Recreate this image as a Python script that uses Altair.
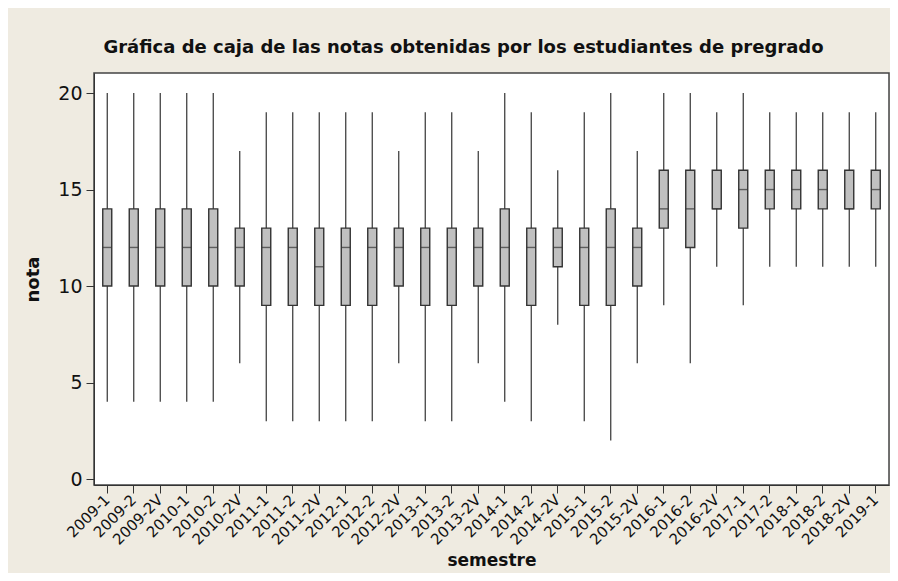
import altair as alt
import pandas as pd

semestres = ["2009-1", "2009-2", "2009-2V", "2010-1", "2010-2", "2010-2V",
             "2011-1", "2011-2", "2011-2V", "2012-1", "2012-2", "2012-2V",
             "2013-1", "2013-2", "2013-2V", "2014-1", "2014-2", "2014-2V",
             "2015-1", "2015-2", "2015-2V", "2016-1", "2016-2", "2016-2V",
             "2017-1", "2017-2", "2018-1", "2018-2", "2018-2V", "2019-1"]
minimo = [4, 4, 4, 4, 4, 6, 3, 3, 3, 3, 3, 6, 3, 3, 6, 4, 3, 8, 3, 2, 6, 9, 6, 11, 9, 11, 11, 11, 11, 11]
q1 = [10, 10, 10, 10, 10, 10, 9, 9, 9, 9, 9, 10, 9, 9, 10, 10, 9, 11, 9, 9, 10, 13, 12, 14, 13, 14, 14, 14, 14, 14]
mediana = [12, 12, 12, 12, 12, 12, 12, 12, 11, 12, 12, 12, 12, 12, 12, 12, 12, 12, 12, 12, 12, 14, 14, 14, 15, 15, 15, 15, 14, 15]
q3 = [14, 14, 14, 14, 14, 13, 13, 13, 13, 13, 13, 13, 13, 13, 13, 14, 13, 13, 13, 14, 13, 16, 16, 16, 16, 16, 16, 16, 16, 16]
maximo = [20, 20, 20, 20, 20, 17, 19, 19, 19, 19, 19, 17, 19, 19, 17, 20, 19, 16, 19, 20, 17, 20, 20, 19, 20, 19, 19, 19, 19, 19]
y_ticks = [0, 5, 10, 15, 20]

df = pd.DataFrame({"semestre": semestres, "min": minimo, "q1": q1,
                   "med": mediana, "q3": q3, "max": maximo})

FONT = "DejaVu Sans"
DARK = "#333333"

x_enc = alt.X("semestre:N", sort=semestres,
              scale=alt.Scale(paddingInner=0, paddingOuter=0),
              axis=alt.Axis(title="semestre", labelAngle=-45, labelAlign="right",
                            labelBaseline="middle", labelFontSize=15, labelFont=FONT,
                            labelColor="#111111", labelPadding=4, tickSize=8,
                            tickColor=DARK, domainColor=DARK, titleFont=FONT,
                            titleFontSize=17, titleFontWeight="bold", titleColor="#111111",
                            titleY=80, titleBaseline="alphabetic"))
y_scale = alt.Scale(domain=[-0.31, 21.04], nice=False, zero=False)

whisk = alt.Chart(df).mark_rule(color=DARK, strokeWidth=1.2).encode(
    x=x_enc,
    y=alt.Y("min:Q", scale=y_scale,
            axis=alt.Axis(title="nota", values=y_ticks, labelFontSize=19, labelFont=FONT,
                          labelColor="#111111", tickSize=8, tickColor=DARK, domainColor=DARK,
                          labelPadding=4, grid=False, titleFont=FONT, titleFontSize=18,
                          titleFontWeight="bold", titleColor="#111111", titleAngle=-90,
                          titleX=-61, titleY=206, titleAlign="center",
                          titleBaseline="middle")),
    y2="max:Q",
)
box = alt.Chart(df).mark_bar(size=9, fill="#C0C0C0", stroke=DARK, strokeWidth=1.4).encode(
    x=alt.X("semestre:N", sort=semestres),
    y=alt.Y("q1:Q", scale=y_scale),
    y2="q3:Q",
)
med = alt.Chart(df).mark_tick(size=9, thickness=1.4, color=DARK).encode(
    x=alt.X("semestre:N", sort=semestres),
    y=alt.Y("med:Q", scale=y_scale),
)

chart = (whisk + box + med).properties(
    width=795, height=412,
    autosize=alt.AutoSizeParams(type="none"),
    padding={"left": 86, "top": 65, "right": 1, "bottom": 88},
    background="#EFEBE1",
    title=alt.TitleParams("Gráfica de caja de las notas obtenidas por los estudiantes de pregrado",
                          font=FONT, fontSize=18, fontWeight="bold", color="#111111",
                          anchor="middle", offset=16, dx=-28),
).configure_view(stroke="#444444", strokeWidth=1.5, fill="white").configure_axis(grid=False)

chart.save("out.html", embed_options={"renderer": "svg", "actions": False})
